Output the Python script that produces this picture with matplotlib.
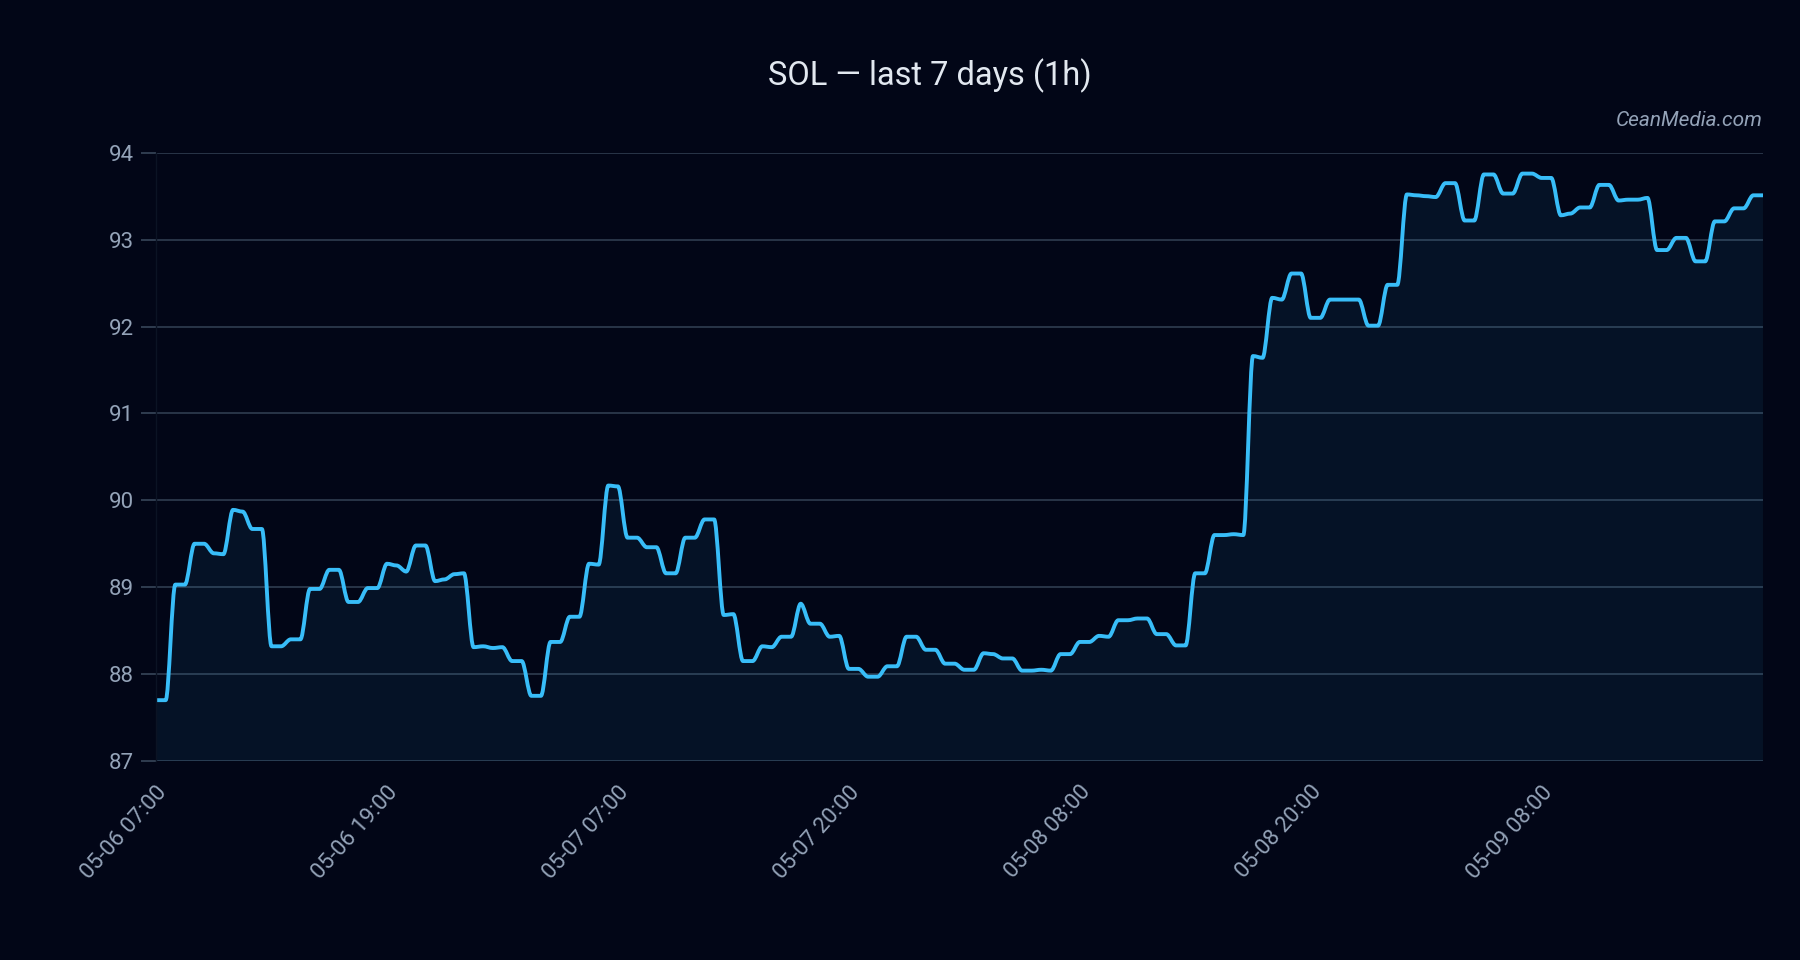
import numpy as np
import matplotlib
matplotlib.use("Agg")
import matplotlib.pyplot as plt
from matplotlib.path import Path
from matplotlib.patches import PathPatch

plt.rcParams['font.family'] = ['Roboto', 'DejaVu Sans']

# 30-min samples of SOL price (USD)
prices = [
    87.70, 87.70, 89.03, 89.03, 89.50, 89.50, 89.39, 89.38, 89.89, 89.87,
    89.67, 89.67, 88.32, 88.32, 88.40, 88.40, 88.98, 88.98, 89.20, 89.20,
    88.83, 88.83, 88.99, 88.99, 89.27, 89.25, 89.18, 89.48, 89.48, 89.07,
    89.09, 89.15, 89.16, 88.31, 88.32, 88.30, 88.31, 88.15, 88.15, 87.75,
    87.75, 88.37, 88.37, 88.66, 88.66, 89.27, 89.26, 90.17, 90.16, 89.57,
    89.57, 89.46, 89.46, 89.16, 89.16, 89.57, 89.57, 89.78, 89.78, 88.68,
    88.69, 88.15, 88.15, 88.32, 88.31, 88.43, 88.43, 88.81, 88.58, 88.58,
    88.43, 88.44, 88.06, 88.06, 87.97, 87.97, 88.09, 88.09, 88.43, 88.43,
    88.28, 88.28, 88.12, 88.12, 88.05, 88.05, 88.24, 88.23, 88.18, 88.18,
    88.04, 88.04, 88.05, 88.04, 88.23, 88.23, 88.37, 88.37, 88.44, 88.43,
    88.62, 88.62, 88.64, 88.64, 88.46, 88.46, 88.33, 88.33, 89.16, 89.16,
    89.60, 89.60, 89.61, 89.60, 91.66, 91.64, 92.33, 92.31, 92.61, 92.61,
    92.10, 92.10, 92.31, 92.31, 92.31, 92.31, 92.01, 92.01, 92.48, 92.48,
    93.52, 93.51, 93.50, 93.49, 93.65, 93.65, 93.22, 93.22, 93.75, 93.75,
    93.53, 93.53, 93.76, 93.76, 93.71, 93.71, 93.28, 93.30, 93.37, 93.37,
    93.63, 93.63, 93.45, 93.46, 93.46, 93.48, 92.88, 92.88, 93.02, 93.02,
    92.75, 92.75, 93.21, 93.21, 93.36, 93.36, 93.51, 93.51,
]

tick_idx = [0, 24, 48, 72, 96, 120, 144]
tick_labels = ['05-06 07:00', '05-06 19:00', '05-07 07:00', '05-07 20:00',
               '05-08 08:00', '05-08 20:00', '05-09 08:00']
y_ticks = [87, 88, 89, 90, 91, 92, 93, 94]
y_min, y_max = 87, 94

bg = '#020617'
line_c = '#38bdf8'
grid_c = '#334155'
text_c = '#94a3b8'

x = np.arange(len(prices))
y = np.array(prices)

# smooth curve: cubic bezier between samples, flat tangent at each sample
verts = [(x[0], y[0])]
codes = [Path.MOVETO]
for i in range(len(x) - 1):
    verts += [(x[i] + 1 / 3, y[i]), (x[i + 1] - 1 / 3, y[i + 1]),
              (x[i + 1], y[i + 1])]
    codes += [Path.CURVE4] * 3

fill_verts = verts + [(x[-1], y_min), (x[0], y_min), (x[0], y[0])]
fill_codes = codes + [Path.LINETO, Path.LINETO, Path.CLOSEPOLY]

fig = plt.figure(figsize=(18, 9.6), dpi=100, facecolor=bg)
ax = fig.add_axes([0.0867, 0.2073, 0.8927, 0.6336])
ax.set_facecolor(bg)

ax.add_patch(PathPatch(Path(fill_verts, fill_codes), facecolor=line_c,
                       alpha=0.07, linewidth=0))
ax.add_patch(PathPatch(Path(verts, codes), facecolor='none',
                       edgecolor=line_c, linewidth=2.8,
                       joinstyle='round', capstyle='round'))

ax.set_xlim(0, len(prices) - 1)
ax.set_ylim(y_min, y_max)
ax.set_yticks(y_ticks)
ax.set_xticks(tick_idx)
ax.set_xticklabels(tick_labels, rotation=48, ha='right',
                   rotation_mode='anchor')

ax.grid(axis='y', color=grid_c, linewidth=1.3, alpha=0.85)
ax.grid(axis='x', visible=False)
ax.set_axisbelow(True)

for s in ['top', 'right', 'bottom']:
    ax.spines[s].set_visible(False)
ax.spines['left'].set_color('#0b1324')
ax.spines['left'].set_linewidth(1.0)

ax.tick_params(axis='y', colors=text_c, labelsize=16, length=11,
               width=1.3, pad=5)
ax.tick_params(axis='y', color=grid_c)
ax.tick_params(axis='x', colors=text_c, labelsize=16, length=0, pad=15)

fig.text(0.5165, 0.921, 'SOL — last 7 days (1h)', color='#e2e8f0',
         fontsize=23.5, ha='center', va='center')
fig.text(0.9794, 0.875, 'CeanMedia.com', color=text_c, fontsize=15,
         style='italic', ha='right', va='center')

fig.savefig('out.png', dpi=100, facecolor=bg)
